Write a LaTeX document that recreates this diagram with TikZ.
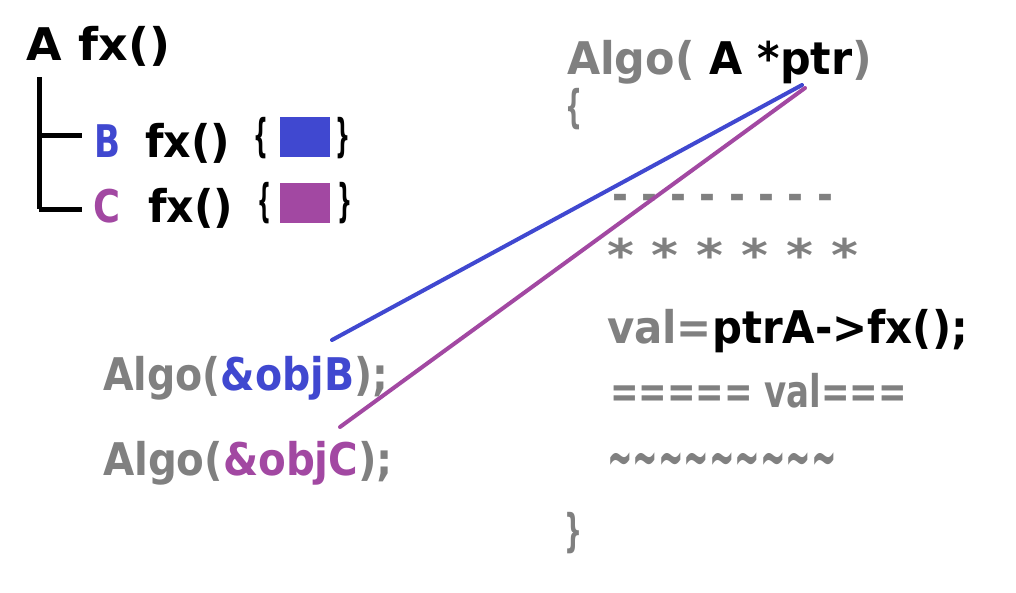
\documentclass[tikz,border=0pt]{standalone}
\usepackage{fontspec}
\usepackage{graphicx}
\setmainfont{DejaVu Sans}
\definecolor{cb}{RGB}{64,72,208}
\definecolor{cp}{RGB}{162,72,162}
\definecolor{cg}{RGB}{128,128,128}
\newcommand\tw[2]{\resizebox{#1}{\height}{#2}}
\tikzset{
  txt/.style={inner sep=0pt, outer sep=0pt, anchor=base west, font=\fontsize{45}{50}\selectfont\bfseries},
  bigtxt/.style={txt, font=\fontsize{62}{66}\selectfont\bfseries},
  tree/.style={line width=5pt, black},
  swatch/.style={inner sep=0pt, minimum width=50pt, minimum height=40pt},
  conn/.style={line width=4pt, line cap=round}
}
\begin{document}
\begin{tikzpicture}[x=1pt,y=-1pt]
\useasboundingbox[fill=white] (0,0) rectangle (1016,592);
% hierarchy
\node[txt] (afx) at (27,60) {\tw{143pt}{A fx()}};
\node[txt] (bl) at (94,157) {\tw{26pt}{\color{cb}B}};
\node[txt] (bfx) at (145,157) {\tw{85pt}{fx()}};
\node[txt] (bo) at (253,151) {\tw{15pt}{\{}};
\node[swatch, fill=cb] (bsw) at (305,137) {};
\node[txt] (bc) at (335,151) {\tw{15pt}{\}}};
\node[txt] (cl) at (93,222) {\tw{27pt}{\color{cp}C}};
\node[txt] (cfx) at (148,222) {\tw{85pt}{fx()}};
\node[txt] (co) at (257,216) {\tw{14pt}{\{}};
\node[swatch, fill=cp] (csw) at (305,203) {};
\node[txt] (cc) at (337,216) {\tw{15pt}{\}}};
\coordinate (t0) at (39,77);
\coordinate (t1) at (39,135);
\coordinate (t2) at (39,209);
\coordinate (h1) at (82,135);
\coordinate (h2) at (82,209);
\draw[tree] (t0) -- (t2);
\draw[tree] (t1) -- (h1);
\draw[tree] (t2) -- (h2);
% function body
\node[txt] (sig) at (567,74) {\tw{305pt}{\color{cg}Algo( \color{black}A *ptr\color{cg})}};
\node[txt] (ob) at (565,122) {\tw{17pt}{\color{cg}\{}};
\node[txt] (dash) at (612,210) {\tw{221pt}{\color{cg}- - - - - - - -}};
\node[txt] (star) at (607,271) {\tw{251pt}{\color{cg}* * * * * *}};
\node[txt] (val) at (607,343) {\tw{361pt}{\color{cg}val=\color{black}ptrA->fx();}};
\node[txt] (eq) at (610,407) {\tw{297pt}{\color{cg}===== val===}};
\node[bigtxt] (til) at (607,478) {\tw{230pt}{\color{cg}\char`\~\char`\~\char`\~\char`\~\char`\~\char`\~\char`\~\char`\~\char`\~}};
\node[txt] (cb2) at (564,546) {\tw{18pt}{\color{cg}\}}};
% calls
\node[txt] (callb) at (103,390) {\tw{285pt}{\color{cg}Algo(\color{cb}\&objB\color{cg});}};
\node[txt] (callc) at (103,475) {\tw{290pt}{\color{cg}Algo(\color{cp}\&objC\color{cg});}};
% connectors
\coordinate (bs) at (332,340);
\coordinate (be) at (802,85);
\coordinate (cs) at (340,427);
\coordinate (ce) at (805,88);
\draw[conn, cb] (bs) -- (be);
\draw[conn, cp] (cs) -- (ce);
\end{tikzpicture}
\end{document}
